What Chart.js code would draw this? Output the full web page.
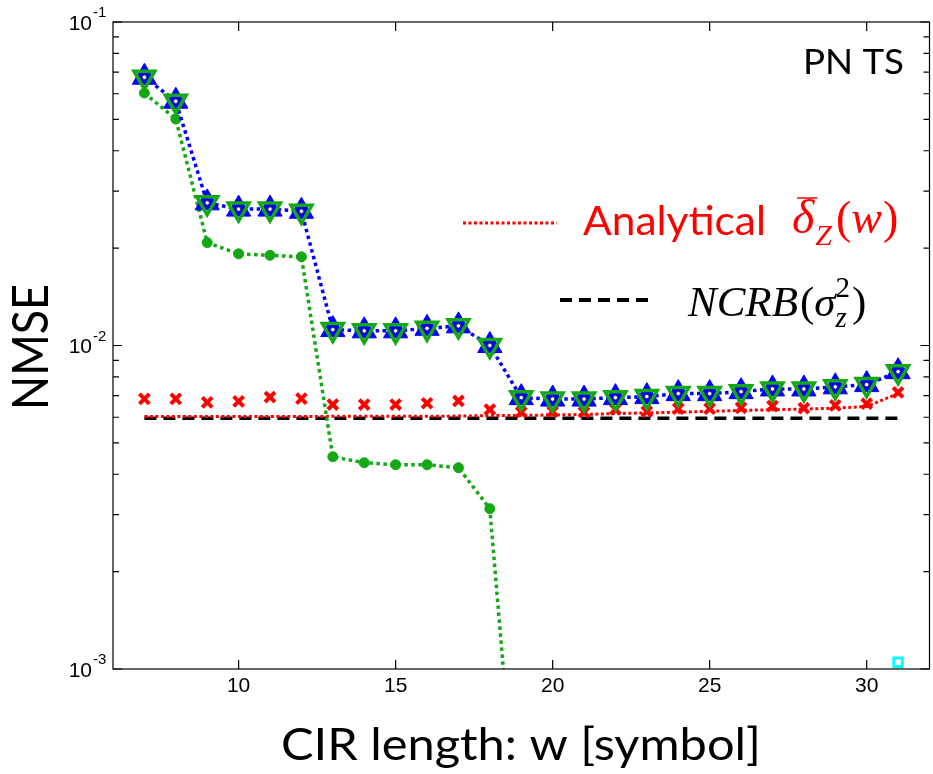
<!DOCTYPE html>
<html>
<head>
<meta charset="utf-8">
<script src="https://cdn.jsdelivr.net/npm/chart.js@4.4.0/dist/chart.umd.min.js"></script>
<style>
  html, body { margin: 0; padding: 0; background: #fff; overflow: hidden; }
  #nmseChart { display: block; }
</style>
</head>
<body>
<!-- canvas is a bit wider than the window: Chart.js reserves room for the big markers on the right -->
<canvas id="nmseChart" width="945" height="774"></canvas>
<script>
// CIR length w (symbols)
const cirLength = [7, 8, 9, 10, 11, 12, 13, 14, 15, 16, 17, 18, 19, 20, 21, 22, 23, 24, 25, 26, 27, 28, 29, 30, 31];
// blue up-triangles / green down-triangles (same values)
const nmseTriangles = [0.0675, 0.0569, 0.0276, 0.0264, 0.0264, 0.0260, 0.0112, 0.0111, 0.0111, 0.0113, 0.0115, 0.0100,
  0.0069, 0.00683, 0.00683, 0.0069, 0.00695, 0.0071, 0.0071, 0.0072, 0.00734, 0.00734, 0.00745, 0.00757, 0.0083];
// green dotted with filled circles (falls off the bottom after w=18)
const circleW = [7, 8, 9, 10, 11, 12, 13, 14, 15, 16, 17, 18, 19];
const nmseCircles = [0.0603, 0.0501, 0.0208, 0.0192, 0.0190, 0.0188, 0.00453, 0.00434, 0.00428, 0.00428, 0.00419, 0.00313, 0.00022];
// red x markers
const nmseCross = [0.00684, 0.00684, 0.00667, 0.00672, 0.00693, 0.00685, 0.00657, 0.00657, 0.00657, 0.00663, 0.00674, 0.00634,
  0.00622, 0.00625, 0.00622, 0.00635, 0.00625, 0.00638, 0.00638, 0.00642, 0.0065, 0.0064, 0.00653, 0.00661, 0.00716];
// analytical (red dotted)
const analytical = [0.00603, 0.00603, 0.00603, 0.00603, 0.00603, 0.00603, 0.00604, 0.00604, 0.00604, 0.00604, 0.00605, 0.00607,
  0.00608, 0.0061, 0.00612, 0.00616, 0.00619, 0.00622, 0.00626, 0.0063, 0.00633, 0.00636, 0.0064, 0.00648, 0.0071];
// NCRB (black dashed)
const ncrbW = [7, 31];
const ncrb = [0.00596, 0.00596];
// lone cyan square
const cyanW = [31];
const cyanVal = [0.00105];

const xTicks = [10, 15, 20, 25, 30];
const yTickExp = [-3, -2, -1];

const toXY = (xs, ys) => xs.map((x, i) => ({ x: x, y: ys[i] }));

const BLUE = '#0000ff';
const GREEN = '#14a814';
const RED = '#ff0000';

// draw text at a given font size, squeezed to a given width (Calibri-ish look)
function squeezeText(ctx, text, x, y, size, family, width, align) {
  ctx.font = size + 'px ' + family;
  const w = ctx.measureText(text).width;
  const k = width / w;
  ctx.save();
  ctx.translate(x, y);
  ctx.scale(k, 1);
  ctx.textAlign = align;
  ctx.fillText(text, 0, 0);
  ctx.restore();
}

const drawBits = {
  id: 'drawBits',
  afterDraw(chart) {
    const ctx = chart.ctx;
    const { left, right, top, bottom } = chart.chartArea;
    const xs = chart.scales.x, ys = chart.scales.y;
    ctx.save();

    // box + inward ticks
    ctx.strokeStyle = '#000';
    ctx.lineWidth = 1.2;
    ctx.strokeRect(left, top, right - left, bottom - top);
    ctx.beginPath();
    xTicks.forEach(v => {
      const px = xs.getPixelForValue(v);
      ctx.moveTo(px, bottom); ctx.lineTo(px, bottom - 9);
      ctx.moveTo(px, top); ctx.lineTo(px, top + 9);
    });
    yTickExp.forEach(e => {
      const py = ys.getPixelForValue(Math.pow(10, e));
      ctx.moveTo(left, py); ctx.lineTo(left + 9, py);
      ctx.moveTo(right, py); ctx.lineTo(right - 9, py);
      if (e < -1) {
        for (let m = 2; m <= 9; m++) {
          const pm = ys.getPixelForValue(m * Math.pow(10, e));
          ctx.moveTo(left, pm); ctx.lineTo(left + 6, pm);
          ctx.moveTo(right, pm); ctx.lineTo(right - 6, pm);
        }
      }
    });
    ctx.stroke();

    // tick labels
    ctx.fillStyle = '#000';
    ctx.font = '21px "Liberation Sans"';
    ctx.textAlign = 'center';
    ctx.textBaseline = 'middle';
    xTicks.forEach(v => ctx.fillText(String(v), xs.getPixelForValue(v), bottom + 17));
    yTickExp.forEach(e => {
      const py = ys.getPixelForValue(Math.pow(10, e));
      ctx.font = '21px "Liberation Sans"';
      ctx.textAlign = 'right';
      ctx.fillText('10', left - 21, py + 2);
      ctx.font = '15px "Liberation Sans"';
      ctx.textAlign = 'left';
      ctx.fillText(String(e), left - 20, py - 9);
    });

    // axis titles
    const fam = 'Lato';
    ctx.textBaseline = 'alphabetic';
    squeezeText(ctx, 'CIR length: w [symbol]', 521, 760, 45, fam, 480, 'center');

    ctx.save();
    ctx.translate(48, 347);
    ctx.rotate(-Math.PI / 2);
    squeezeText(ctx, 'NMSE', 0, 0, 50, fam, 126, 'center');
    ctx.restore();

    // annotation
    squeezeText(ctx, 'PN TS', 803, 74, 34, fam, 101, 'left');

    // legend: analytical
    ctx.strokeStyle = RED;
    ctx.lineWidth = 3;
    ctx.setLineDash([3, 2.5]);
    ctx.beginPath(); ctx.moveTo(463, 223); ctx.lineTo(557, 223); ctx.stroke();
    ctx.fillStyle = RED;
    squeezeText(ctx, 'Analytical', 583, 235, 41, fam, 183, 'left');

    ctx.textAlign = 'left';
    const serif = '"Liberation Serif"';
    let x = 792;
    ctx.font = 'italic 48px ' + serif;
    ctx.fillText('\u03b4', x, 233);
    const dw = ctx.measureText('\u03b4').width;
    ctx.setLineDash([]);
    ctx.lineWidth = 1.5;
    ctx.beginPath(); ctx.moveTo(x + 5, 198); ctx.lineTo(x + dw + 3, 198); ctx.stroke();
    x += dw + 1;
    ctx.font = 'italic 30px ' + serif;
    ctx.fillText('Z', x, 245);
    x += ctx.measureText('Z').width + 4;
    ctx.font = '46px ' + serif;
    ctx.fillText('(', x, 233);
    x += ctx.measureText('(').width;
    ctx.font = 'italic 46px ' + serif;
    ctx.fillText('w', x, 233);
    x += ctx.measureText('w').width + 1;
    ctx.font = '46px ' + serif;
    ctx.fillText(')', x, 233);

    // legend: NCRB
    ctx.strokeStyle = '#000';
    ctx.lineWidth = 4;
    ctx.setLineDash([12, 7]);
    ctx.beginPath(); ctx.moveTo(560, 300); ctx.lineTo(652, 300); ctx.stroke();
    ctx.setLineDash([]);
    ctx.fillStyle = '#000';
    x = 688;
    ctx.font = 'italic 43px ' + serif;
    ctx.fillText('NCRB', x, 316);
    x += ctx.measureText('NCRB').width + 2;
    ctx.font = '43px ' + serif;
    ctx.fillText('(', x, 316);
    x += ctx.measureText('(').width;
    ctx.font = 'italic 43px ' + serif;
    ctx.fillText('\u03c3', x, 316);
    x += ctx.measureText('\u03c3').width;
    ctx.font = 'italic 29px ' + serif;
    ctx.fillText('z', x, 327);
    const zw = ctx.measureText('z').width;
    ctx.font = '29px ' + serif;
    ctx.fillText('2', x, 297);
    x += Math.max(zw, ctx.measureText('2').width) + 2;
    ctx.font = '43px ' + serif;
    ctx.fillText(')', x, 316);

    ctx.restore();
  }
};

const chart = new Chart(document.getElementById('nmseChart'), {
  type: 'line',
  data: {
    datasets: [
      {
        data: toXY(cirLength, nmseTriangles),
        showLine: false,
        pointStyle: 'circle', pointRadius: 2.2,
        pointBackgroundColor: '#fff', pointBorderColor: '#334', pointBorderWidth: 1
      },
      {
        data: toXY(cirLength, nmseTriangles),
        showLine: false,
        pointStyle: 'triangle', pointRotation: 180, pointRadius: 12,
        pointBackgroundColor: 'rgba(0,0,0,0)', pointBorderColor: GREEN, pointBorderWidth: 3.5
      },
      {
        data: toXY(cirLength, nmseTriangles),
        borderColor: BLUE, borderWidth: 3.5, borderDash: [3.5, 3.5],
        pointStyle: 'triangle', pointRadius: 14,
        pointBackgroundColor: BLUE, pointBorderColor: BLUE, pointBorderWidth: 1
      },
      {
        data: toXY(circleW, nmseCircles),
        borderColor: GREEN, borderWidth: 3.5, borderDash: [3.5, 3.5],
        pointStyle: 'circle', pointRadius: 5,
        pointBackgroundColor: GREEN, pointBorderColor: GREEN, pointBorderWidth: 1
      },
      {
        data: toXY(cirLength, nmseCross),
        showLine: false,
        pointStyle: 'crossRot', pointRadius: 7,
        pointBorderColor: RED, pointBorderWidth: 4
      },
      {
        data: toXY(cirLength, analytical),
        borderColor: RED, borderWidth: 3, borderDash: [3, 2.5],
        pointRadius: 0
      },
      {
        data: toXY(ncrbW, ncrb),
        borderColor: '#000', borderWidth: 3.5, borderDash: [12, 7],
        pointRadius: 0
      },
      {
        data: toXY(cyanW, cyanVal),
        showLine: false,
        pointStyle: 'rect', pointRadius: 6,
        pointBackgroundColor: '#fff', pointBorderColor: '#00ffff', pointBorderWidth: 3
      }
    ]
  },
  options: {
    responsive: false,
    animation: false,
    layout: { padding: { top: 22, right: 3, left: 0, bottom: 0 } },
    plugins: { legend: { display: false }, tooltip: { enabled: false } },
    elements: { line: { tension: 0 } },
    scales: {
      x: {
        type: 'linear', min: 6, max: 32,
        grid: { display: false }, border: { display: false }, ticks: { display: false },
        afterFit: sc => { sc.height = 105; }
      },
      y: {
        type: 'logarithmic', min: 1e-3, max: 1e-1,
        grid: { display: false }, border: { display: false }, ticks: { display: false },
        afterFit: sc => { sc.width = 113; }
      }
    }
  },
  plugins: [drawBits]
});
</script>
</body>
</html>
